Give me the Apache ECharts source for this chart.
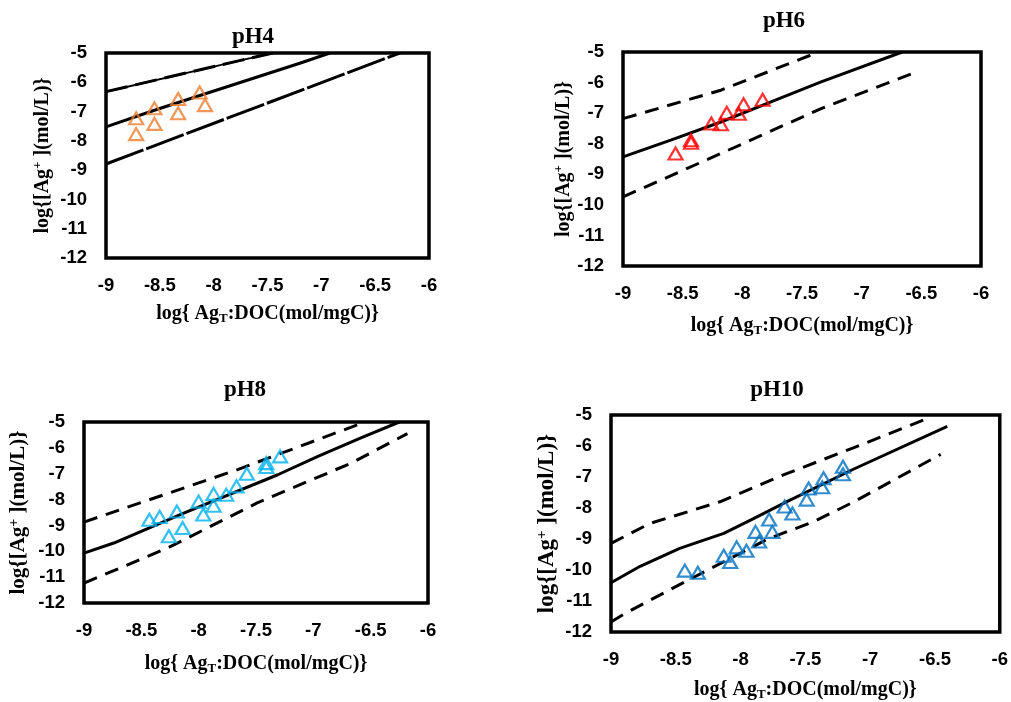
<!DOCTYPE html>
<html>
<head>
<meta charset="utf-8">
<script src="https://cdn.jsdelivr.net/npm/echarts@6/dist/echarts.min.js"></script>
<style>html,body{margin:0;padding:0;background:#fff}#c{width:1011px;height:702px}</style>
</head>
<body>
<div id="c"></div>
<script>
// ---- tick labels ----
const xTicks = [-9, -8.5, -8, -7.5, -7, -6.5, -6];
const yTicks = [-12, -11, -10, -9, -8, -7, -6, -5];
const panelTitles = ['pH4', 'pH6', 'pH8', 'pH10'];
const pointColors = ['#ED7D31', '#FF0000', '#00B0F0', '#0070C0'];

// ---- pH4 ----
const pH4Points = [[-8.72,-7.23],[-8.72,-7.77],[-8.55,-6.89],[-8.55,-7.42],[-8.33,-6.57],[-8.33,-7.06],[-8.13,-6.35],[-8.08,-6.78]];
const pH4Model = [[-9,-7.52],[-8.53,-6.93],[-7.2,-5.35],[-6.92,-5.0]];
const pH4Upper = [[-9,-6.32],[-7.76,-5.26],[-7.45,-5.0]];
const pH4Lower = [[-9,-8.79],[-6.27,-5.0]];

// ---- pH6 ----
const pH6Points = [[-8.56,-8.32],[-8.43,-7.97],[-8.43,-7.89],[-8.26,-7.34],[-8.18,-7.36],[-8.13,-6.99],[-8.03,-7.02],[-7.99,-6.71],[-7.83,-6.56]];
const pH6Model = [[-9,-8.43],[-8.6,-7.88],[-8.18,-7.29],[-7.76,-6.63],[-7.34,-5.98],[-6.66,-5.0]];
const pH6Upper = [[-9,-7.18],[-8.18,-6.25],[-7.36,-5.0]];
const pH6Lower = [[-9,-9.74],[-8.18,-8.32],[-7.34,-6.85],[-6.54,-5.65]];

// ---- pH8 ----
const pH8Points = [[-8.43,-8.78],[-8.34,-8.67],[-8.19,-8.46],[-8.26,-9.42],[-8.14,-9.10],[-8.0,-8.08],[-7.96,-8.58],[-7.87,-7.78],[-7.87,-8.24],[-7.76,-7.81],[-7.67,-7.49],[-7.58,-7.0],[-7.41,-6.59],[-7.41,-6.74],[-7.29,-6.33]];
const pH8Model = [[-9,-10.07],[-8.74,-9.68],[-8.13,-8.52],[-7.31,-7.04],[-6.96,-6.33],[-6.59,-5.62],[-6.25,-5.0]];
const pH8Upper = [[-9,-8.87],[-7.66,-6.84],[-6.55,-5.0]];
const pH8Lower = [[-9,-11.23],[-8.27,-9.87],[-7.49,-8.13],[-6.67,-6.59],[-6.18,-5.45]];

// ---- pH10 ----
const pH10Points = [[-8.43,-10.02],[-8.33,-10.09],[-8.13,-9.54],[-8.08,-9.74],[-8.03,-9.27],[-7.955,-9.38],[-7.885,-8.77],[-7.857,-9.08],[-7.78,-8.37],[-7.755,-8.77],[-7.66,-7.95],[-7.60,-8.18],[-7.49,-7.73],[-7.475,-7.37],[-7.37,-7.33],[-7.36,-7.04],[-7.21,-6.91],[-7.21,-6.67]];
const pH10Model = [[-9,-10.41],[-8.775,-9.88],[-8.47,-9.30],[-8.13,-8.82],[-7.9,-8.34],[-7.65,-7.81],[-7.13,-6.75],[-6.405,-5.37]];
const pH10Upper = [[-9,-9.14],[-8.7,-8.5],[-8.16,-7.8],[-7.65,-6.9],[-7.13,-6.06],[-6.55,-5.1]];
const pH10Lower = [[-9,-11.68],[-8.9,-11.42],[-8.42,-10.36],[-7.78,-8.98],[-7.44,-8.45],[-7.13,-7.81],[-6.456,-6.27]];

const panels = [
  {points: pH4Points, model: pH4Model, upper: pH4Upper, lower: pH4Lower},
  {points: pH6Points, model: pH6Model, upper: pH6Upper, lower: pH6Lower},
  {points: pH8Points, model: pH8Model, upper: pH8Upper, lower: pH8Lower},
  {points: pH10Points, model: pH10Model, upper: pH10Upper, lower: pH10Lower}
];

// ---- layout ----
const grids = [
  {left: 106, top: 53, width: 323, height: 205},
  {left: 623, top: 52, width: 358, height: 214},
  {left: 84, top: 422, width: 344, height: 181},
  {left: 611, top: 415, width: 390, height: 220}
];
const titlePos = [[253, 37], [784, 21], [245, 390], [777, 390]];
const xNameGap = [45, 49, 50, 47];
const yNameGap = [52, 47, 53, 51];
const yNameSize = [20, 20, 21, 23];

const serif = '"Liberation Serif", "Times New Roman", serif';
const sans = '"Liberation Sans", Arial, sans-serif';

const option = {
  animation: false,
  backgroundColor: '#fff',
  grid: grids.map(g => Object.assign({
    show: true, borderColor: '#000', borderWidth: 3.5, backgroundColor: '#fff', containLabel: false
  }, g)),
  xAxis: grids.map((g, i) => ({
    gridIndex: i, type: 'value',
    min: xTicks[0], max: xTicks[xTicks.length - 1], interval: xTicks[1] - xTicks[0],
    axisLine: {show: false}, axisTick: {show: false}, splitLine: {show: false},
    axisLabel: {margin: 18, fontFamily: sans, fontWeight: 'bold', fontSize: 18.5, color: '#000',
      showMinLabel: true, showMaxLabel: true},
    name: 'log{ Ag{sub|T}:DOC(mol/mgC)}',
    nameLocation: 'middle', nameGap: xNameGap[i],
    nameTextStyle: {fontFamily: serif, fontWeight: 'bold', fontSize: 20, color: '#000',
      rich: {sub: {fontFamily: serif, fontWeight: 'bold', fontSize: 13, color: '#000', padding: [9, 0, 0, 0]}}}
  })),
  yAxis: grids.map((g, i) => ({
    gridIndex: i, type: 'value',
    min: yTicks[0], max: yTicks[yTicks.length - 1], interval: yTicks[1] - yTicks[0],
    axisLine: {show: false}, axisTick: {show: false}, splitLine: {show: false},
    axisLabel: {margin: 19, fontFamily: sans, fontWeight: 'bold', fontSize: 18.5, color: '#000',
      showMinLabel: true, showMaxLabel: true},
    name: 'log{[Ag{sup|+} ](mol/L)}',
    nameLocation: 'middle', nameGap: yNameGap[i],
    nameTextStyle: {fontFamily: serif, fontWeight: 'bold', fontSize: yNameSize[i], color: '#000',
      rich: {sup: {fontFamily: serif, fontWeight: 'bold', fontSize: Math.round(yNameSize[i] * 0.65), color: '#000', padding: [0, 0, 10, 0]}}}
  })),
  graphic: panelTitles.map((t, i) => ({
    type: 'text', x: titlePos[i][0], y: titlePos[i][1],
    style: {text: t, textAlign: 'center', textVerticalAlign: 'middle',
      font: 'bold 23px ' + serif, fill: '#000'}
  })),
  series: []
};

panels.forEach((p, i) => {
  const base = {xAxisIndex: i, yAxisIndex: i, type: 'line', symbol: 'none', silent: true, z: 3};
  option.series.push(Object.assign({}, base, {data: p.upper,
    lineStyle: {color: '#000', width: 3, type: i === 0 ? [22, 8] : [14, 9]}}));
  option.series.push(Object.assign({}, base, {data: p.lower,
    lineStyle: {color: '#000', width: 3, type: i === 0 ? [40, 3] : [14, 9]}}));
  option.series.push(Object.assign({}, base, {data: p.model,
    lineStyle: {color: '#000', width: 3, type: 'solid'}}));
  if (i === 0) {
    option.series.push(Object.assign({}, base, {data: p.upper,
      lineStyle: {color: '#000', width: 2, type: 'solid'}}));
  }
  option.series.push({
    xAxisIndex: i, yAxisIndex: i, type: 'scatter', data: p.points,
    symbol: 'triangle', symbolSize: [14, 12], z: 4,
    itemStyle: {color: 'rgba(255,255,255,0)', borderColor: pointColors[i], borderWidth: 2.2}
  });
});

const chart = echarts.init(document.getElementById('c'), null, {renderer: 'canvas'});
chart.setOption(option);
</script>
</body>
</html>
